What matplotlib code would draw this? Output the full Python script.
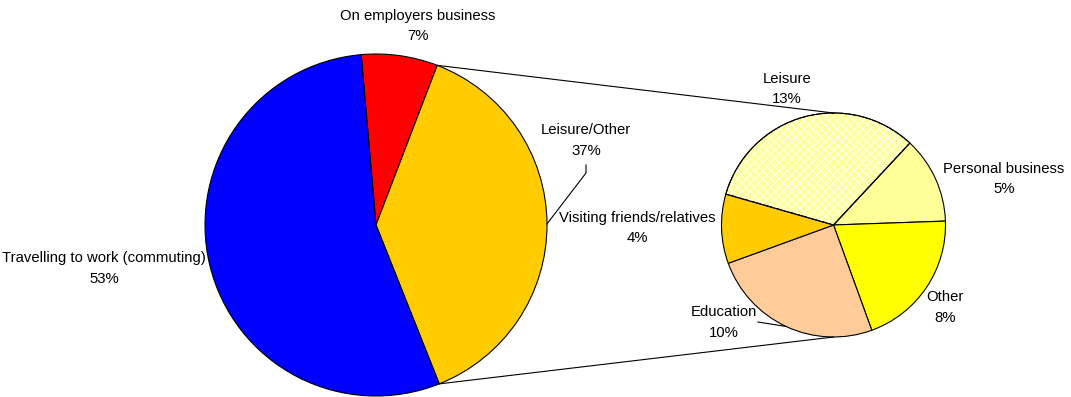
import numpy as np
import matplotlib.pyplot as plt
from matplotlib.patches import Wedge

plt.rcParams['font.family'] = ['Liberation Sans', 'DejaVu Sans']
plt.rcParams['hatch.linewidth'] = 0.6

W, H = 1071, 397

# journey purpose shares (%)
main_labels = ['On employers business', 'Leisure/Other', 'Travelling to work (commuting)']
main_values = [7, 37, 53]
main_colors = ['#FF0000', '#FFCC00', '#0000FF']

# breakdown of Leisure/Other
sub_labels = ['Leisure', 'Personal business', 'Other', 'Education', 'Visiting friends/relatives']
sub_values = [13, 5, 8, 10, 4]
sub_colors = ['#FFFF99', '#FFFF99', '#FFFF00', '#FFCC99', '#FFCC00']

fig = plt.figure(figsize=(W / 100, H / 100), dpi=100)
ax = fig.add_axes([0, 0, 1, 1])

main_c, main_r = (376, H - 225), 171
sub_c, sub_r = (833.5, H - 225), 112

edge = dict(edgecolor='black', linewidth=0.8)
main_w, _ = ax.pie(main_values, colors=main_colors, startangle=95, counterclock=False,
                   radius=main_r, center=main_c, wedgeprops=edge)
sub_w, _ = ax.pie(sub_values, colors=sub_colors, startangle=164, counterclock=False,
                  radius=sub_r, center=sub_c, wedgeprops=edge)

# dotted lattice on the Leisure slice
lw = sub_w[0]
ax.add_patch(Wedge(lw.center, lw.r, lw.theta1, lw.theta2, facecolor='none',
                   edgecolor='white', linewidth=0, hatch='xxxx', zorder=2))
ax.add_patch(Wedge(lw.center, lw.r, lw.theta1, lw.theta2, facecolor='none',
                   edgecolor='black', linewidth=0.8, zorder=3))


def edge_point(c, r, ang):
    a = np.deg2rad(ang)
    return c[0] + r * np.cos(a), c[1] + r * np.sin(a)


# connector lines from the Leisure/Other slice to the breakdown pie
yw = main_w[1]
p_top = edge_point(main_c, main_r, yw.theta2)
p_bot = edge_point(main_c, main_r, yw.theta1)
ax.plot([p_top[0], sub_c[0]], [p_top[1], sub_c[1] + sub_r], color='black', lw=0.8)
ax.plot([p_bot[0], sub_c[0]], [p_bot[1], sub_c[1] - sub_r], color='black', lw=0.8)

# leader lines
mid = (yw.theta1 + yw.theta2) / 2
pm = edge_point(main_c, main_r, mid)
ax.plot([586, 586, pm[0]], [H - 165, H - 173, pm[1]], color='black', lw=0.8)
ew = sub_w[3]
pe = edge_point(sub_c, sub_r, (ew.theta1 + ew.theta2) / 2)
ax.plot([758, pe[0]], [H - 322, pe[1]], color='black', lw=0.8)

fs = 10.7
text_pos = {
    'Travelling to work (commuting)': (104, 268.5),
    'On employers business': (418, 26),
    'Leisure/Other': (586, 140.5),
    'Leisure': (787, 89),
    'Personal business': (1004, 179),
    'Other': (945, 307.5),
    'Education': (724, 322.5),
    'Visiting friends/relatives': (637, 228),
}
for lab, val in zip(main_labels + sub_labels, main_values + sub_values):
    x, y = text_pos[lab]
    ax.text(x, H - y, f'{lab}\n{val}%', ha='center', va='center', fontsize=fs,
            linespacing=1.6, color='black')

ax.set_xlim(0, W)
ax.set_ylim(0, H)
ax.set_aspect('equal')
ax.axis('off')

fig.savefig('out.png', dpi=100, facecolor='white')
